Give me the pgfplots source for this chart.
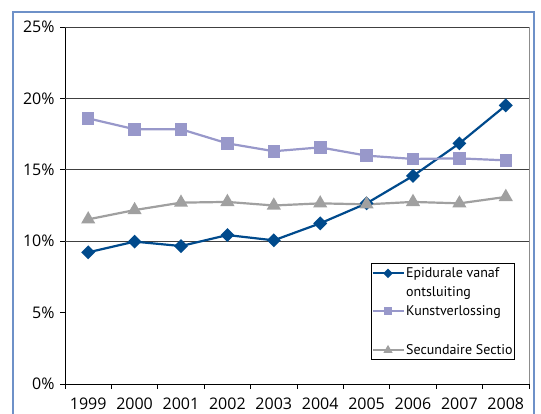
\documentclass[border=0pt]{standalone}
\usepackage{pgfplots}
\pgfplotsset{compat=1.18}
\usepackage{fontspec}
\setmainfont{PT Sans}
\newfontfamily\tickfont{Open Sans}
\definecolor{epi}{RGB}{0,74,140}
\definecolor{kunst}{RGB}{152,152,202}
\definecolor{sec}{RGB}{160,160,160}
\definecolor{framec}{RGB}{110,145,200}
\pgfdeclareplotmark{rdiamond}{%
 \pgfpathmoveto{\pgfqpoint{0pt}{\pgfplotmarksize}}%
 \pgfpathlineto{\pgfqpoint{\pgfplotmarksize}{0pt}}%
 \pgfpathlineto{\pgfqpoint{0pt}{-\pgfplotmarksize}}%
 \pgfpathlineto{\pgfqpoint{-\pgfplotmarksize}{0pt}}%
 \pgfpathclose\pgfusepathqfillstroke}
\begin{document}
\begin{tikzpicture}
\useasboundingbox (0,0) rectangle (541pt,414pt);
\draw[framec, line width=1.5pt] (13pt,-2pt) -- (13pt,402pt) -- (534pt,402pt) -- (534pt,-2pt);
\begin{axis}[
  at={(65pt,30pt)}, anchor=south west,
  scale only axis, width=464pt, height=357pt,
  xmin=1998.5, xmax=2008.5, ymin=0, ymax=25,
  axis x line*=bottom, axis y line*=left,
  axis line style={-, black, line width=0.9pt},
  xtick={1999,...,2008},
  xticklabels={1999,2000,2001,2002,2003,2004,2005,2006,2007,2008},
  major x tick style={draw=none},
  minor xtick={1998.5,1999.5,...,2008.5},
  minor tick length=5pt,
  major tick length=5pt,
  tick align=outside,
  tick style={black, line width=0.8pt},
  ytick={0,5,...,25},
  yticklabels={0\%,5\%,10\%,15\%,20\%,25\%},
  tick label style={font=\tickfont\fontsize{16}{18}\selectfont},
  xticklabel style={yshift=-5pt},
  yticklabel style={xshift=-2pt},
  extra y ticks={10,15,20,25},
  extra y tick labels={},
  extra y tick style={grid=major, major tick length=0pt},
  extra x ticks={2008.5},
  extra x tick labels={},
  extra x tick style={grid=major, major tick length=0pt, major grid style={gray!90, line width=0.9pt}},
  major grid style={black!75, line width=0.9pt},
  legend cell align=left,
  legend style={at={(0.6595,0.339)}, anchor=north west, draw=black, line width=0.8pt,
    font=\fontsize{14}{16}\selectfont, inner xsep=0pt, inner ysep=2pt, row sep=3.5pt,
    nodes={anchor=base west, inner xsep=1.5pt}},
  legend image code/.code={\draw[mark repeat=2,mark phase=2,#1] plot coordinates {(0pt,4pt) (15.5pt,4pt) (31pt,4pt)};},
  legend image post style={mark size=3.2pt},
]
\addplot[epi, line width=2.2pt, mark=rdiamond, mark size=5.4pt] coordinates {
(1999,9.22) (2000,9.97) (2001,9.66) (2002,10.43) (2003,10.06) (2004,11.25) (2005,12.65) (2006,14.57) (2007,16.85) (2008,19.51)};
\addlegendentry{Epidurale vanaf}
\addlegendimage{empty legend}
\addlegendentry{ontsluiting}
\addplot[kunst, line width=2.2pt, mark=square*, mark size=5.2pt] coordinates {
(1999,18.6) (2000,17.84) (2001,17.84) (2002,16.85) (2003,16.3) (2004,16.57) (2005,15.99) (2006,15.76) (2007,15.8) (2008,15.66)};
\addlegendentry{Kunstverlossing}
\addlegendimage{empty legend}
\addlegendentry{\strut}
\addplot[sec, line width=2.2pt, mark=triangle*, mark size=6pt] coordinates {
(1999,11.53) (2000,12.18) (2001,12.7) (2002,12.75) (2003,12.5) (2004,12.65) (2005,12.58) (2006,12.75) (2007,12.65) (2008,13.1)};
\addlegendentry{Secundaire Sectio\rule[-14pt]{0pt}{14pt}}
\end{axis}
\end{tikzpicture}
\end{document}
